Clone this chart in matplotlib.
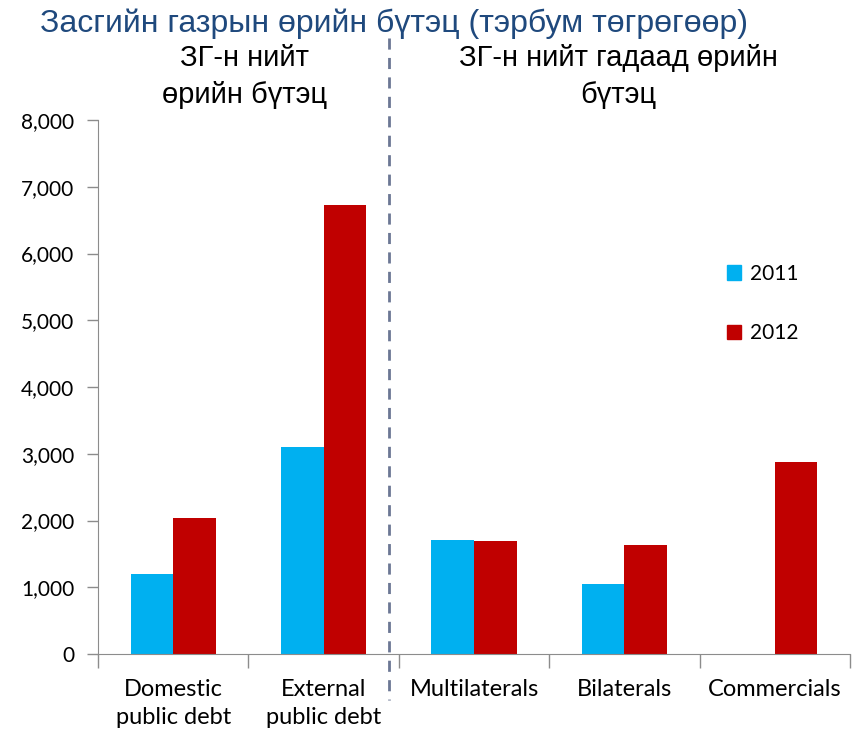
import matplotlib
matplotlib.use('Agg')
import matplotlib.pyplot as plt
import numpy as np
from matplotlib.lines import Line2D
from matplotlib.patches import Patch

categories = ['Domestic\npublic debt', 'External\npublic debt', 'Multilaterals', 'Bilaterals', 'Commercials']
values_2011 = [1200, 3100, 1710, 1050, 0]
values_2012 = [2040, 6730, 1690, 1630, 2880]
yticks = [0, 1000, 2000, 3000, 4000, 5000, 6000, 7000, 8000]

title = 'Засгийн газрын өрийн бүтэц (тэрбум төгрөгөөр)'
left_head = 'ЗГ-н нийт\nөрийн бүтэц'
right_head = 'ЗГ-н нийт гадаад өрийн\nбүтэц'

c2011 = '#00B0F0'
c2012 = '#C00000'
spine_col = '#8C8C8C'

fig = plt.figure(figsize=(8.53, 7.31), dpi=100)
ax = fig.add_axes([0.115, 0.1053, 0.8815, 0.7305])

x = np.arange(len(categories))
w = 0.283
ax.bar(x - w / 2, values_2011, w, color=c2011, label='2011')
ax.bar(x + w / 2, values_2012, w, color=c2012, label='2012')

ax.set_xlim(-0.5, len(categories) - 0.5)
ax.set_ylim(0, 8000)
ax.set_yticks(yticks)
ax.set_yticklabels(['{:,}'.format(v) for v in yticks], family='Lato', fontsize=15)
ax.set_xticks(x)
ax.set_xticklabels(categories, family='Lato', fontsize=17, linespacing=1.4)
ax.set_xticks(np.arange(len(categories) + 1) - 0.5, minor=True)
ax.tick_params(axis='x', which='major', length=0, pad=18)
ax.tick_params(axis='x', which='minor', length=10, color=spine_col, width=1)
ax.tick_params(axis='y', length=8, color=spine_col, width=1, pad=9)

for s in ['top', 'right']:
    ax.spines[s].set_visible(False)
for s in ['left', 'bottom']:
    ax.spines[s].set_color(spine_col)

handles = [Patch(color=c2011), Patch(color=c2012)]
ax.legend(handles, ['2011', '2012'], loc='upper left', bbox_to_anchor=(0.811, 0.766),
          frameon=False, prop={'family': 'Lato', 'size': 15},
          handlelength=0.7, handleheight=0.7, handletextpad=0.4, labelspacing=1.9)

fig.text(0.047, 0.988, title, family='Liberation Sans', fontsize=23, color='#1F497D',
         va='top', ha='left')
fig.text(0.287, 0.940, left_head, family='Liberation Sans', fontsize=21, color='black',
         va='top', ha='center', linespacing=1.4)
fig.text(0.725, 0.940, right_head, family='Liberation Sans', fontsize=21, color='black',
         va='top', ha='center', linespacing=1.4)

fig.add_artist(Line2D([389 / 853, 389 / 853], [1 - 38 / 731, 1 - 700 / 731],
                      transform=fig.transFigure, color='#6B7794', lw=2,
                      linestyle=(0, (4, 3))))

fig.savefig('out.png', dpi=100)
